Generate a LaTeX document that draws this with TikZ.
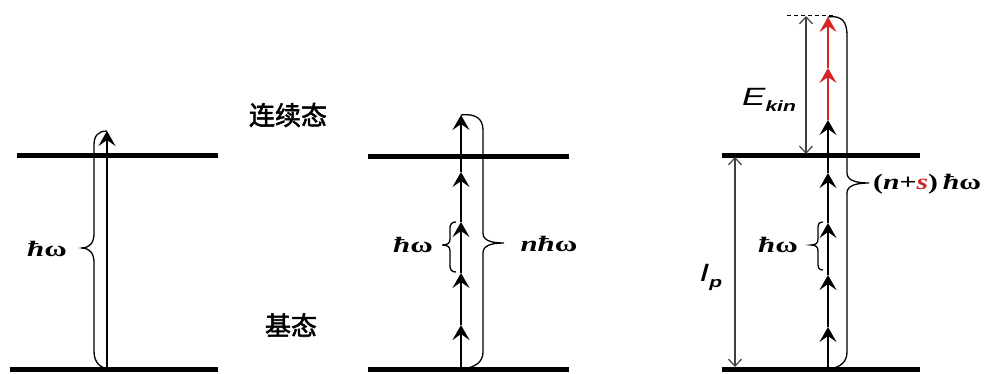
\documentclass[tikz,border=0pt]{standalone}
\usepackage{fontspec}
\usepackage{graphicx}
\usetikzlibrary{arrows.meta}
\newfontfamily\cjk[FakeBold=2]{Noto Sans CJK SC}
\newfontfamily\arialf{Liberation Sans}
\newfontfamily\timesf{Liberation Serif}
\definecolor{myred}{RGB}{215,35,35}
\tikzset{
  level/.style={line width=5pt},
  photon/.style={line width=1.4pt,-{Stealth[length=15pt,width=17pt,inset=6pt]}},
  brc/.style={line width=1.3pt},
  dimarrow/.style={line width=1.2pt, draw=black!75, {Straight Barb[length=7pt,width=13pt]}-{Straight Barb[length=7pt,width=13pt]}},
  lab/.style={inner sep=0pt, font=\fontsize{22}{22}\timesf\bfseries},
  cjklab/.style={inner sep=0pt, font=\fontsize{26}{26}\cjk},
  sanslab/.style={inner sep=0pt, font=\fontsize{25}{25}\arialf\itshape},
}
\newcommand{\hw}{\scalebox{1.4}[1]{\textit{ħ}ω}}
\begin{document}
\begin{tikzpicture}[x=1pt,y=-1pt]
\useasboundingbox (0,0) rectangle (1002,373);

% ---------- panel 1 ----------
\draw[level] (17,155) -- (218,155);
\draw[level] (10,369) -- (218,369);
\coordinate (a0) at (107,369);
\coordinate (a1) at (107,131);
\draw[photon] (a0) -- (a1);
\draw[brc] (a0) .. controls (97,366) and (94,360) .. (94,350) -- (94,262)
  .. controls (94,253) and (89,248) .. (82,248)
  .. controls (89,248) and (94,243) .. (94,234) -- (94,145)
  .. controls (94,136) and (98,131) .. (a1);
\node[lab] (l1) at (47,249) {\hw};

% ---------- panel 2 ----------
\draw[level] (368,156) -- (569,156);
\draw[level] (368,369) -- (569,369);
\coordinate (b0) at (461,369);
\coordinate (b1) at (461,325);
\coordinate (b2) at (461,273);
\coordinate (b3) at (461,222);
\coordinate (b4) at (461,172);
\coordinate (b5) at (461,115);
\draw[photon] (b0) -- (b1);
\draw[photon] (b1) -- (b2);
\draw[photon] (b2) -- (b3);
\draw[photon] (b3) -- (b4);
\draw[photon] (b4) -- (b5);
\draw[brc] (456,222) .. controls (452,222) and (450,224) .. (450,228) -- (450,239)
  .. controls (450,243) and (448,245) .. (442,245)
  .. controls (448,245) and (450,247) .. (450,251) -- (450,266)
  .. controls (450,270) and (452,272) .. (456,272);
\node[lab] (l2) at (413,245) {\hw};
\draw[brc] (b5) .. controls (477,113) and (483,120) .. (483,130) -- (483,233)
  .. controls (483,240) and (490,243) .. (504,243)
  .. controls (490,243) and (483,246) .. (483,253) -- (483,352)
  .. controls (483,362) and (475,368) .. (b0);
\node[lab] (l3) at (549,244) {\scalebox{1.4}[1]{\textit{nħ}ω}};

\node[cjklab] (c1) at (288,115) {连续态};
\node[cjklab] (c2) at (291,325) {基态};

% ---------- panel 3 ----------
\draw[level] (722,155) -- (920,155);
\draw[level] (722,369) -- (920,369);
\draw[line width=1pt, dashed, dash pattern=on 4pt off 3pt] (787,15) -- (833,15);
\coordinate (e0) at (806,16);
\coordinate (e1) at (806,154);
\draw[dimarrow] (e0) -- (e1);
\node[sanslab] (ek) at (769,100) {\scalebox{1.4}[1]{E\raisebox{-6pt}{\fontsize{15}{15}\selectfont\bfseries kin}}};
\coordinate (i0) at (735,157);
\coordinate (i1) at (735,367);
\draw[dimarrow] (i0) -- (i1);
\node[sanslab] (ip) at (711,277) {\scalebox{1.4}[1]{I\raisebox{-6pt}{\fontsize{15}{15}\selectfont\bfseries p}}};

\coordinate (d0) at (828,369);
\coordinate (d1) at (828,327);
\coordinate (d2) at (828,275);
\coordinate (d3) at (828,223);
\coordinate (d4) at (828,173);
\coordinate (d5) at (828,120);
\coordinate (d6) at (828,68);
\coordinate (d7) at (828,17);
\draw[photon] (d0) -- (d1);
\draw[photon] (d1) -- (d2);
\draw[photon] (d2) -- (d3);
\draw[photon] (d3) -- (d4);
\draw[photon] (d4) -- (d5);
\draw[photon, myred] (d5) -- (d6);
\draw[photon, myred] (d6) -- (d7);
\draw[brc] (823,222) .. controls (819,222) and (818,224) .. (818,228) -- (818,239)
  .. controls (818,243) and (816,245) .. (811,245)
  .. controls (816,245) and (818,247) .. (818,251) -- (818,264)
  .. controls (818,268) and (819,270) .. (823,270);
\node[lab] (l4) at (778,245) {\hw};
\draw[brc] (d7) .. controls (842,15) and (847,22) .. (847,35) -- (847,173)
  .. controls (847,180) and (855,183) .. (869,183)
  .. controls (855,183) and (847,186) .. (847,193) -- (847,352)
  .. controls (847,362) and (840,368) .. (d0);
\node[lab, anchor=west] (l5) at (873,184) {\scalebox{1.35}[1]{(\textit{n}+{\color{myred}\textit{s}})\,\textit{ħ}ω}};
\end{tikzpicture}
\end{document}
